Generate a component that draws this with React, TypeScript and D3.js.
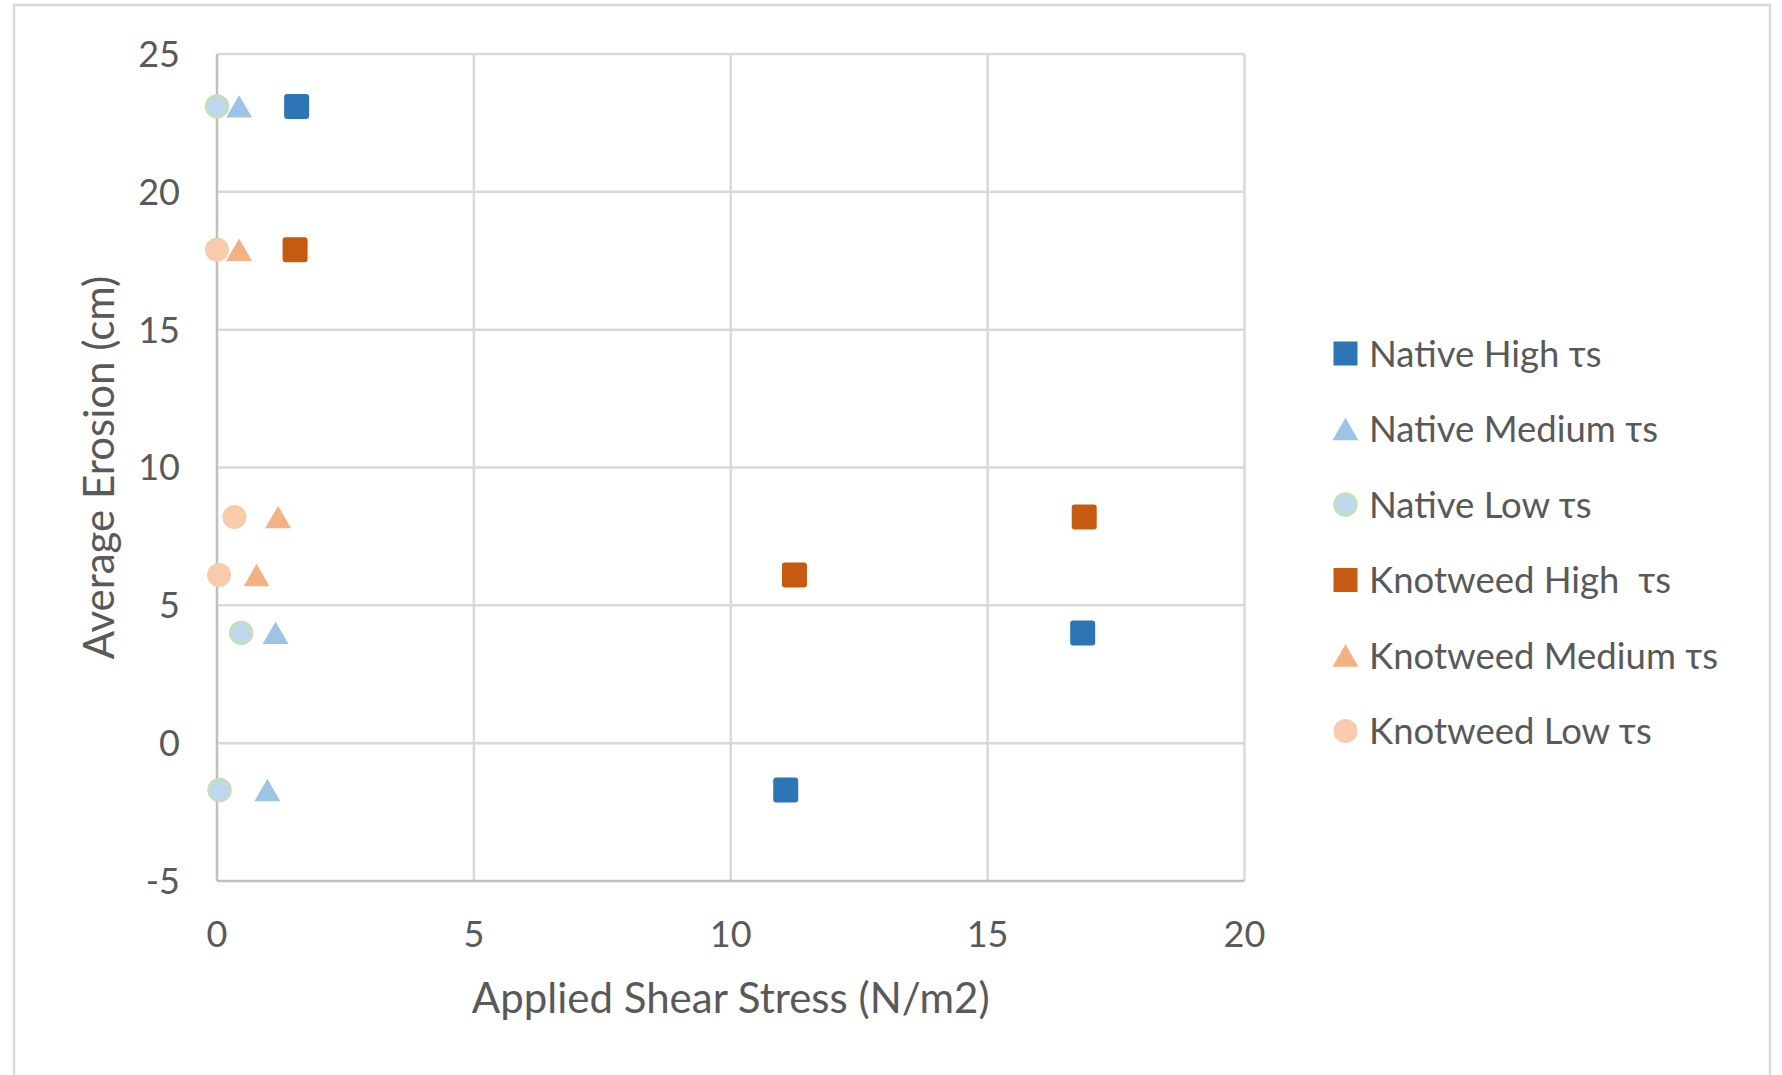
import React from "react";
import * as d3 from "d3";

const seriesNames = [
  "Native High τs",
  "Native Medium τs",
  "Native Low τs",
  "Knotweed High  τs",
  "Knotweed Medium τs",
  "Knotweed Low τs",
];
const nativeHigh: [number, number][] = [[1.55, 23.1], [16.85, 4.0], [11.07, -1.7]];
const nativeMedium: [number, number][] = [[0.43, 23.1], [1.14, 4.0], [0.98, -1.7]];
const nativeLow: [number, number][] = [[0.0, 23.1], [0.47, 4.0], [0.05, -1.7]];
const knotHigh: [number, number][] = [[1.52, 17.9], [11.24, 6.1], [16.88, 8.2]];
const knotMedium: [number, number][] = [[0.43, 17.9], [0.77, 6.1], [1.19, 8.2]];
const knotLow: [number, number][] = [[0.0, 17.9], [0.04, 6.1], [0.34, 8.2]];
const xTicks = [0, 5, 10, 15, 20];
const yTicks = [-5, 0, 5, 10, 15, 20, 25];

type Shape = "square" | "triangle" | "circle";
const seriesData = [nativeHigh, nativeMedium, nativeLow, knotHigh, knotMedium, knotLow];
const shapes: Shape[] = ["square", "triangle", "circle", "square", "triangle", "circle"];
const fills = ["#2E75B6", "#9DC3E6", "#BDD7EE", "#C55A11", "#F4B183", "#F8CBAD"];
const strokes = ["none", "none", "#C5E0B4", "none", "none", "none"];

const FONT = "Lato, 'Open Sans', sans-serif";
const TXT = "#595959";

function Marker({ shape, cx, cy, fill, stroke }: { shape: Shape; cx: number; cy: number; fill: string; stroke: string }) {
  if (shape === "square") {
    return <rect x={cx - 12.5} y={cy - 12.5} width={25} height={25} rx={3} fill={fill} />;
  }
  if (shape === "circle") {
    return (
      <circle cx={cx} cy={cy} r={stroke === "none" ? 12 : 11} fill={fill}
        stroke={stroke} strokeWidth={stroke === "none" ? 0 : 2.5} />
    );
  }
  const path = d3.symbol().type(d3.symbolTriangle).size(290)() as string;
  return <path d={path} transform={`translate(${cx},${cy + 3.7})`} fill={fill} />;
}

export default function App() {
  const x = d3.scaleLinear().domain([0, 20]).range([217, 1244.5]);
  const y = d3.scaleLinear().domain([-5, 25]).range([881, 54]);

  const legendX = 1345.5;
  const legendY0 = 353.5;
  const legendDy = 75.5;

  return (
    <svg width={1782} height={1075} style={{ position: "absolute", left: 0, top: 0, background: "#fff" }}>
      <rect x={0} y={0} width={1782} height={1075} fill="#fff" />
      <rect x={14} y={5} width={1756} height={1090} fill="none" stroke="#d9d9d9" strokeWidth={2.5} />

      {/* gridlines */}
      {yTicks.filter((t) => t !== -5).map((t) => (
        <line key={"gy" + t} x1={x(0)} x2={x(20)} y1={y(t)} y2={y(t)} stroke="#d9d9d9" strokeWidth={2.5} />
      ))}
      {xTicks.filter((t) => t !== 0).map((t) => (
        <line key={"gx" + t} x1={x(t)} x2={x(t)} y1={y(25)} y2={y(-5)} stroke="#d9d9d9" strokeWidth={2.5} />
      ))}
      {/* axes */}
      <line x1={x(0)} x2={x(0)} y1={y(25)} y2={y(-5)} stroke="#bfbfbf" strokeWidth={2.5} />
      <line x1={x(0)} x2={x(20)} y1={y(-5)} y2={y(-5)} stroke="#bfbfbf" strokeWidth={2.5} />

      {/* tick labels */}
      {yTicks.map((t) => (
        <text key={"ty" + t} x={180} y={y(t)} dy="0.36em" textAnchor="end" fontFamily={FONT} fontSize={36} fill={TXT}>
          {t}
        </text>
      ))}
      {xTicks.map((t) => (
        <text key={"tx" + t} x={x(t)} y={947} textAnchor="middle" fontFamily={FONT} fontSize={36} fill={TXT}>
          {t}
        </text>
      ))}

      {/* axis titles */}
      <text x={(x(0) + x(20)) / 2} y={1013} textAnchor="middle" fontFamily={FONT} fontSize={42} fill={TXT}>
        Applied Shear Stress (N/m2)
      </text>
      <text transform={`translate(114,${(y(25) + y(-5)) / 2}) rotate(-90)`} textAnchor="middle" fontFamily={FONT} fontSize={42} fill={TXT}>
        Average Erosion (cm)
      </text>

      {/* points */}
      {seriesData.map((data, i) =>
        data.map((d, j) => (
          <Marker key={`p${i}-${j}`} shape={shapes[i]} cx={x(d[0])} cy={y(d[1])} fill={fills[i]} stroke={strokes[i]} />
        ))
      )}

      {/* legend */}
      {seriesNames.map((name, i) => {
        const cy = legendY0 + i * legendDy;
        return (
          <g key={"lg" + i}>
            {shapes[i] === "square" ? (
              <rect x={legendX - 12} y={cy - 12} width={24} height={24} fill={fills[i]} />
            ) : (
              <Marker shape={shapes[i]} cx={legendX} cy={cy} fill={fills[i]} stroke={strokes[i]} />
            )}
            <text x={1369} y={cy} dy="0.36em" fontFamily={FONT} fontSize={36.5} fill={TXT} style={{ whiteSpace: "pre" }}>
              {name}
            </text>
          </g>
        );
      })}
    </svg>
  );
}
